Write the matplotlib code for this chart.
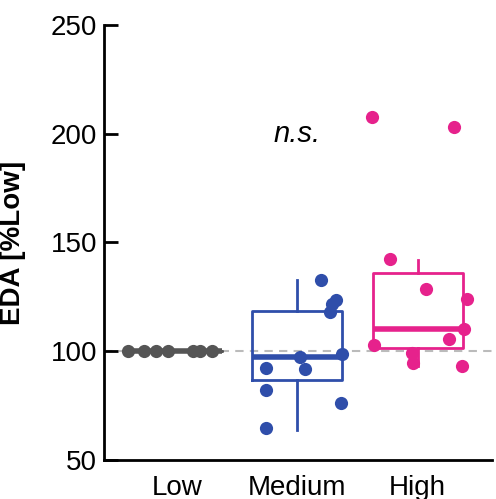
import matplotlib
matplotlib.use("Agg")
import matplotlib.pyplot as plt
import numpy as np

plt.rcParams['font.family'] = ['Liberation Sans', 'DejaVu Sans']

categories = ["Low", "Medium", "High"]
colors = ["#555555", "#2F4EAA", "#E6228C"]

# individual points: values and horizontal jitter
low_vals = [100, 100, 100, 100, 100, 100, 100]
low_jit = [-0.41, -0.28, -0.18, -0.08, 0.13, 0.19, 0.29]
med_vals = [132.8, 123.6, 121.8, 118.2, 98.7, 97.5, 92.4, 91.6, 82.2, 76.2, 64.7]
med_jit = [0.20, 0.32, 0.29, 0.27, 0.37, 0.02, -0.26, 0.06, -0.26, 0.36, -0.26]
high_vals = [207.7, 203.1, 142.4, 128.6, 124.0, 110.2, 105.6, 102.9, 99.2, 94.6, 93.0]
high_jit = [-0.38, 0.30, -0.23, 0.07, 0.41, 0.39, 0.26, -0.36, -0.05, -0.04, 0.37]

# box statistics
q1 = [100, 86.8, 101.5]
med = [100, 97.4, 110.2]
q3 = [100, 118.5, 135.9]
whislo = [100, 63.8, 93.0]
whishi = [100, 132.8, 142.0]

yticks = [50, 100, 150, 200, 250]

fig = plt.figure(figsize=(4.96, 4.99), dpi=100)
ax = fig.add_axes([0.2097, 0.0782, 0.7823, 0.8718])

ax.axhline(100, color="#BBBBBB", lw=1.5, ls=(0, (4, 3)), zorder=0)

positions = [1, 2, 3]
for i, pos in enumerate(positions):
    st = [dict(q1=q1[i], med=med[i], q3=q3[i], whislo=whislo[i], whishi=whishi[i], fliers=[])]
    c = colors[i]
    ax.bxp(st, positions=[pos], widths=0.75, showcaps=False, showfliers=False,
           boxprops=dict(color=c, lw=2),
           whiskerprops=dict(color=c, lw=2),
           medianprops=dict(color=c, lw=4, solid_capstyle='butt'),
           manage_ticks=False)

for pos, vals, jit, c in zip(positions, [low_vals, med_vals, high_vals],
                             [low_jit, med_jit, high_jit], colors):
    ax.plot(pos + np.array(jit), vals, 'o', color=c, ms=9.5, mec='none', zorder=3)

ax.text(2, 200, "n.s.", ha="center", va="center", fontsize=21, style="italic")

ax.set_xlim(0.39, 3.62)
ax.set_ylim(50, 250)
ax.set_yticks(yticks)
ax.set_xticks(positions)
ax.set_xticklabels(categories)
ax.tick_params(axis='y', direction='in', length=10, width=2, labelsize=20, pad=5)
ax.tick_params(axis='x', length=0, labelsize=20, pad=11)
ax.set_ylabel("EDA [%Low]", fontsize=20, fontweight="bold")
ax.yaxis.set_label_coords(-0.20, 0.5)
for s in ["top", "right"]:
    ax.spines[s].set_visible(False)
for s in ["left", "bottom"]:
    ax.spines[s].set_linewidth(2)

fig.savefig("out.png", dpi=100)
